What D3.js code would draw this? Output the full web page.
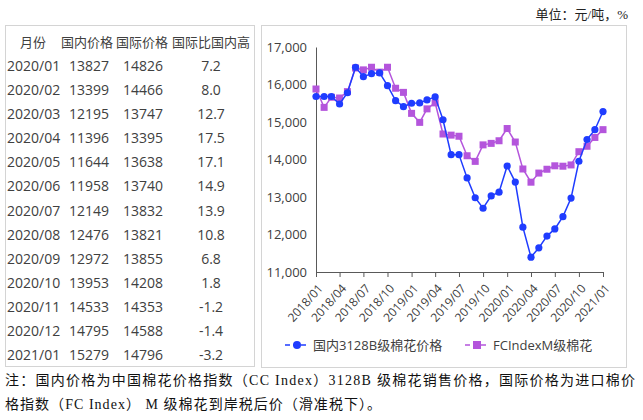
<!DOCTYPE html>
<html>
<head>
<meta charset="utf-8">
<script src="https://cdn.jsdelivr.net/npm/d3@7"></script>
<style>
  body { margin: 0; background: #fff; }
  svg { display: block; }
</style>
</head>
<body>
<svg id="chart" width="643" height="420"></svg>
<script>
// table data
const tableHeader = ['月份', '国内价格', '国际价格', '国际比国内高'];
const tableMonths = ['2020/01','2020/02','2020/03','2020/04','2020/05','2020/06','2020/07',
  '2020/08','2020/09','2020/10','2020/11','2020/12','2021/01'];
const tableDomestic = [13827,13399,12195,11396,11644,11958,12149,12476,12972,13953,14533,14795,15279];
const tableIntl = [14826,14466,13747,13395,13638,13740,13832,13821,13855,14208,14353,14588,14796];
const tableRatio = ['7.2','8.0','12.7','17.5','17.1','14.9','13.9','10.8','6.8','1.8','-1.2','-1.4','-3.2'];

// chart series, monthly from 2018/01
const startMonth = new Date(2018, 0, 1);
const domestic = [
  15680,15680,15680,15480,15780,16460,16210,16290,16310,15970,15570,15410,
  15500,15510,15590,15670,15060,14130,14130,13510,12980,12700,13030,13130,
  13827,13399,12195,11396,11644,11958,12149,12476,12972,13953,14533,14795,
  15279
];
const intl = [
  15880,15390,15660,15640,15810,16440,16390,16460,16330,16460,15900,15790,
  15230,14990,15350,15510,14680,14650,14620,14100,13950,14390,14430,14500,
  14826,14466,13747,13395,13638,13740,13832,13821,13855,14208,14353,14588,
  14796
];
const yTicks = [11000,12000,13000,14000,15000,16000,17000];
const legendNames = ['国内3128B级棉花价格', 'FCIndexM级棉花'];

const blue = '#1f3cff';
const purple = '#b455dc';
const textColor = '#404040';
const sans = '"Open Sans", "Noto Sans CJK SC", sans-serif';
const serif = '"Liberation Serif", "Noto Sans CJK SC", serif';

const svg = d3.select('#chart');

// unit label
svg.append('text')
  .attr('x', 628).attr('y', 19)
  .attr('text-anchor', 'end')
  .attr('font-family', serif)
  .attr('font-size', 13)
  .attr('fill', '#222')
  .text('单位：元/吨，%');

// boxes
svg.append('rect').attr('x', 5.5).attr('y', 25.5).attr('width', 249).attr('height', 341)
  .attr('fill', 'none').attr('stroke', '#d4d4d4');
svg.append('rect').attr('x', 261.5).attr('y', 25.5).attr('width', 365).attr('height', 342)
  .attr('fill', 'none').attr('stroke', '#d4d4d4');

// table
const table = svg.append('g')
  .attr('font-family', sans)
  .attr('fill', textColor);

const headerX = [33, 87, 142, 211];
table.selectAll('.hd').data(tableHeader).join('text')
  .attr('x', (d, i) => headerX[i])
  .attr('y', 42)
  .attr('dy', '0.35em')
  .attr('text-anchor', 'middle')
  .attr('font-size', 13)
  .text(d => d);

const rowY = i => 66 + i * 24.1;
const rows = table.selectAll('.row').data(tableMonths).join('g')
  .attr('transform', (d, i) => `translate(0,${rowY(i)})`)
  .attr('font-size', 14);
rows.append('text').attr('x', 7).attr('dy', '0.35em').text(d => d);
rows.append('text').attr('x', 69).attr('dy', '0.35em').text((d, i) => tableDomestic[i]);
rows.append('text').attr('x', 123).attr('dy', '0.35em').text((d, i) => tableIntl[i]);
rows.append('text').attr('x', 211).attr('dy', '0.35em').attr('text-anchor', 'middle')
  .text((d, i) => tableRatio[i]);

// chart
const dates = domestic.map((d, i) => d3.timeMonth.offset(startMonth, i));
const x = d3.scaleTime()
  .domain([startMonth, new Date(2021, 0, 1)])
  .range([316, 603]);
const y = d3.scaleLinear()
  .domain([11000, 17000])
  .range([272, 47]);

const xAxis = svg.append('g')
  .attr('transform', 'translate(0,272)')
  .call(d3.axisBottom(x)
    .ticks(d3.timeMonth.every(3))
    .tickFormat(d3.timeFormat('%Y/%m'))
    .tickSizeOuter(0)
    .tickSize(5));
xAxis.select('.domain').attr('stroke', '#595959');
xAxis.selectAll('.tick line').attr('stroke', '#595959');
xAxis.selectAll('.tick text')
  .attr('font-family', sans)
  .attr('font-size', 12)
  .attr('fill', textColor)
  .attr('text-anchor', 'end')
  .attr('transform', 'translate(4,14) rotate(-48)')
  .attr('dy', '0.35em')
  .attr('y', 0)
  .attr('x', 0);

const yAxis = svg.append('g')
  .attr('transform', 'translate(316,0)')
  .call(d3.axisLeft(y)
    .tickValues(yTicks)
    .tickFormat(d3.format(','))
    .tickSize(0)
    .tickPadding(9));
yAxis.select('.domain').attr('stroke', '#595959');
yAxis.selectAll('.tick text')
  .attr('font-family', sans)
  .attr('font-size', 13)
  .attr('fill', textColor);

const line = d3.line()
  .x((d, i) => x(dates[i]))
  .y(d => y(d));

// international series
svg.append('path').datum(intl)
  .attr('d', line)
  .attr('fill', 'none')
  .attr('stroke', purple)
  .attr('stroke-width', 1.5);
svg.selectAll('.sq').data(intl).join('rect')
  .attr('x', (d, i) => x(dates[i]) - 3.5)
  .attr('y', d => y(d) - 3.5)
  .attr('width', 7).attr('height', 7)
  .attr('fill', purple);

// domestic series
svg.append('path').datum(domestic)
  .attr('d', line)
  .attr('fill', 'none')
  .attr('stroke', blue)
  .attr('stroke-width', 1.5);
svg.selectAll('.dot').data(domestic).join('circle')
  .attr('cx', (d, i) => x(dates[i]))
  .attr('cy', d => y(d))
  .attr('r', 3.6)
  .attr('fill', blue);

// legend
const legendX = [285, 465];
const legendColors = [blue, purple];
const legend = svg.selectAll('.lg').data(legendNames).join('g')
  .attr('transform', (d, i) => `translate(${legendX[i]},345)`);
legend.append('line')
  .attr('x1', 0).attr('x2', 24)
  .attr('stroke', (d, i) => legendColors[i])
  .attr('stroke-width', 1.5)
  .attr('stroke-dasharray', '5,3');
legend.each(function(d, i) {
  const g = d3.select(this);
  if (i === 0) {
    g.append('circle').attr('cx', 12).attr('r', 4).attr('fill', blue);
  } else {
    g.append('rect').attr('x', 8).attr('y', -4).attr('width', 8).attr('height', 8).attr('fill', purple);
  }
});
legend.append('text')
  .attr('x', 28)
  .attr('dy', '0.35em')
  .attr('font-family', sans)
  .attr('font-size', 13)
  .attr('fill', textColor)
  .text(d => d);

// footnote
const notes = [
  '注：国内价格为中国棉花价格指数（CC Index）3128B 级棉花销售价格，国际价格为进口棉价',
  '格指数（FC Index） M 级棉花到岸税后价（滑准税下）。'
];
const noteLen = [630, 376];
svg.selectAll('.note').data(notes).join('text')
  .attr('x', 5)
  .attr('y', (d, i) => 385 + i * 24)
  .attr('font-family', serif)
  .attr('font-size', 14)
  .attr('fill', '#111')
  .attr('textLength', (d, i) => noteLen[i])
  .attr('lengthAdjust', 'spacing')
  .text(d => d);
</script>
</body>
</html>
